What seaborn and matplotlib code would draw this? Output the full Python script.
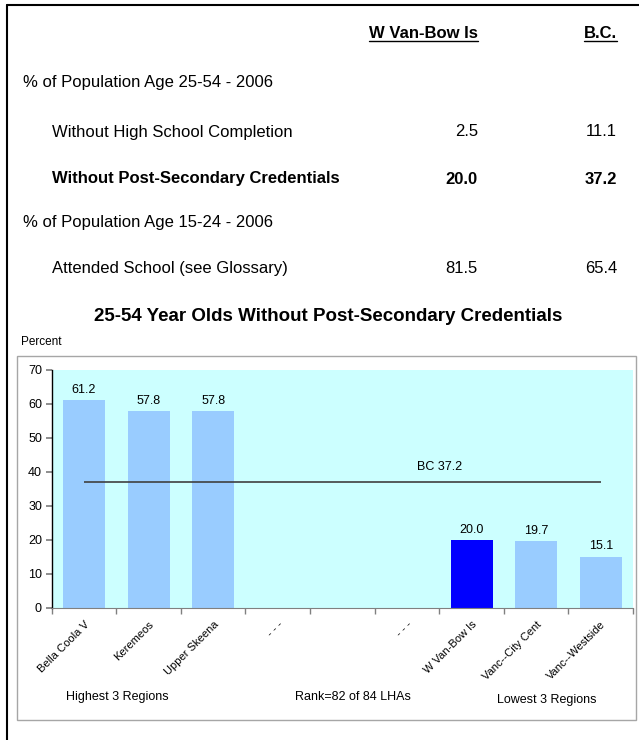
import numpy as np
import pandas as pd
import matplotlib.pyplot as plt
from matplotlib.lines import Line2D
from matplotlib.patches import Rectangle
import seaborn as sns

# Summary table values
col_headers = ["W Van-Bow Is", "B.C."]
row_labels = ["% of Population Age 25-54 - 2006",
              "Without High School Completion",
              "Without Post-Secondary Credentials",
              "% of Population Age 15-24 - 2006",
              "Attended School (see Glossary)"]
local_vals = [None, 2.5, 20.0, None, 81.5]
bc_vals = [None, 11.1, 37.2, None, 65.4]

# Bar chart data
regions = ["Bella Coola V", "Keremeos", "Upper Skeena",
           "W Van-Bow Is", "Vanc--City Cent", "Vanc--Westside"]
pct = [61.2, 57.8, 57.8, 20.0, 19.7, 15.1]
slot_order = ["Bella Coola V", "Keremeos", "Upper Skeena", "gap1", "gap2", "gap3",
              "W Van-Bow Is", "Vanc--City Cent", "Vanc--Westside"]
slot_labels = ["Bella Coola V", "Keremeos", "Upper Skeena", "- - -", "", "- - -",
               "W Van-Bow Is", "Vanc--City Cent", "Vanc--Westside"]
bc_value = 37.2
highlight = "W Van-Bow Is"

sns.set_theme(style="white")
plt.rcParams['font.family'] = ['Liberation Sans', 'DejaVu Sans']
plt.rcParams['text.color'] = 'black'
plt.rcParams['xtick.color'] = 'black'
plt.rcParams['ytick.color'] = 'black'
plt.rcParams['axes.labelcolor'] = 'black'

W, H = 639, 740
fig = plt.figure(figsize=(W / 100, H / 100), dpi=100)


def fx(x):
    return x / W


def fy(y):
    return 1 - y / H


# page frame (left and top rules)
fig.add_artist(Line2D([fx(7), fx(7)], [fy(5), 0], transform=fig.transFigure, color='black', lw=1.5))
fig.add_artist(Line2D([fx(7), 1], [fy(5), fy(5)], transform=fig.transFigure, color='black', lw=1.5))

# --- table ---
tsize = 12
heads = []
for name, xr in zip(col_headers, [478, 617]):
    heads.append(fig.text(fx(xr), fy(34), name, ha='right', va='center', fontsize=tsize, fontweight='bold'))

row_y = [83, 132, 179, 222, 269]
for i, lab in enumerate(row_labels):
    bold = i == 2
    indent = 23 if local_vals[i] is None else 52
    fw = 'bold' if bold else 'normal'
    fig.text(fx(indent), fy(row_y[i]), lab, ha='left', va='center', fontsize=tsize, fontweight=fw)
    if local_vals[i] is not None:
        fig.text(fx(478), fy(row_y[i]), f"{local_vals[i]:.1f}", ha='right', va='center', fontsize=tsize, fontweight=fw)
        fig.text(fx(617), fy(row_y[i]), f"{bc_vals[i]:.1f}", ha='right', va='center', fontsize=tsize, fontweight=fw)

# --- chart ---
fig.text(fx(328), fy(317), "25-54 Year Olds Without Post-Secondary Credentials",
         ha='center', va='center', fontsize=13.5, fontweight='bold')
fig.text(fx(21), fy(342), "Percent", ha='left', va='center', fontsize=8.5)
fig.add_artist(Rectangle((fx(17), fy(720)), fx(636) - fx(17), fy(356) - fy(720),
                         transform=fig.transFigure, fill=False, edgecolor='#A6A6A6', lw=1))

ax = fig.add_axes([fx(51.7), fy(608), fx(633) - fx(51.7), fy(370) - fy(608)])
ax.set_facecolor('#CCFFFF')

df = pd.DataFrame({"region": regions, "pct": pct})
palette = {r: ('#0000FF' if r == highlight else '#99CCFF') for r in regions}
sns.barplot(data=df, x="region", y="pct", hue="region", order=slot_order,
            palette=palette, width=0.65, legend=False, ax=ax, saturation=1,
            linewidth=0, edgecolor='none')

for cont in ax.containers:
    ax.bar_label(cont, fmt="%.1f", padding=3, fontsize=9)

ax.hlines(bc_value, 0, len(slot_order) - 1, color='#404040', lw=1.2)
ax.text(5.5, bc_value + 2.5, f"BC {bc_value}", ha='center', va='bottom', fontsize=9)

ax.set_xlim(-0.5, len(slot_order) - 0.5)
ax.set_ylim(0, 70)
ax.set_yticks(range(0, 71, 10))
ax.tick_params(axis='y', length=4, color='#808080', labelcolor='black', labelsize=9, pad=3, left=True)
ax.set_xticks(range(len(slot_order)))
ax.set_xticklabels(slot_labels, rotation=45, ha='right', rotation_mode='anchor', fontsize=8)
ax.set_xticks(np.arange(len(slot_order) + 1) - 0.5, minor=True)
ax.tick_params(axis='x', which='major', length=0, pad=8, labelcolor='black')
ax.tick_params(axis='x', which='minor', length=4, color='#808080', bottom=True)
ax.set_xlabel("")
ax.set_ylabel("")
for s in ['top', 'right']:
    ax.spines[s].set_visible(False)
ax.spines['left'].set_color('black')
ax.spines['left'].set_linewidth(1)
ax.spines['bottom'].set_color('#808080')
ax.spines['bottom'].set_linewidth(0.8)

fig.text(fx(117), fy(697), "Highest 3 Regions", ha='center', va='center', fontsize=9)
fig.text(fx(353), fy(697), "Rank=82 of 84 LHAs", ha='center', va='center', fontsize=9)
fig.text(fx(547), fy(700), "Lowest 3 Regions", ha='center', va='center', fontsize=9)

# underline the table headers
fig.canvas.draw()
rend = fig.canvas.get_renderer()
inv = fig.transFigure.inverted()
for t in heads:
    bb = t.get_window_extent(rend)
    (x0, y0), (x1, _) = inv.transform([(bb.x0, bb.y0 + 1), (bb.x1, bb.y0 + 1)])
    fig.add_artist(Line2D([x0, x1], [y0, y0], transform=fig.transFigure, color='black', lw=1))

fig.savefig("out.png", dpi=100)
